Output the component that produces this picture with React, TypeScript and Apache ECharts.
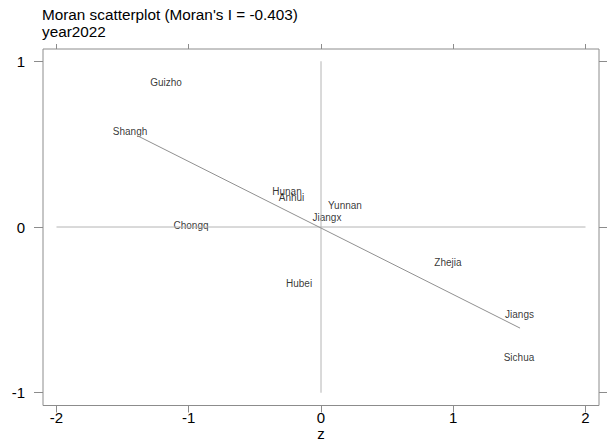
import React, { useEffect, useRef } from "react";
import * as echarts from "echarts";

const titleLines = ["Moran scatterplot (Moran's I = -0.403)", "year2022"];
const regionNames = ["Guizho", "Shangh", "Hunan", "Anhui", "Yunnan", "Jiangx", "Chongq", "Zhejia", "Hubei", "Jiangs", "Sichua"];
const zValues = [-1.172, -1.444, -0.257, -0.223, 0.181, 0.045, -0.983, 0.96, -0.166, 1.501, 1.497];
const wzValues = [0.869, 0.579, 0.217, 0.181, 0.127, 0.06, 0.012, -0.217, -0.338, -0.525, -0.785];
const fitX = [-1.384, 1.505];
const fitY = [0.549, -0.61];
const xTicks = [-2, -1, 0, 1, 2];
const yTicks = [-1, 0, 1];
const xRange = [-2.102, 2.102];
const yRange = [-1.077, 1.074];
const xName = "z";

const FONT = "'Liberation Sans', Arial, sans-serif";
const AXIS_COLOR = "#8c8c8c";
const REF_COLOR = "#b4b4b4";
const FIT_COLOR = "#909090";

export default function App() {
  const ref = useRef<HTMLDivElement>(null);
  useEffect(() => {
    if (!ref.current) return;
    const chart = echarts.init(ref.current, null, { renderer: "svg" });
    const pts = regionNames.map((n, i) => [zValues[i], wzValues[i], n]);
    const baseX = {
      type: "value",
      min: xRange[0],
      max: xRange[1],
      splitLine: { show: false },
      axisLine: { show: false, onZero: false },
    };
    const baseY = {
      type: "value",
      min: yRange[0],
      max: yRange[1],
      splitLine: { show: false },
      axisLine: { show: false, onZero: false },
    };
    chart.setOption({
      animation: false,
      backgroundColor: "#fff",
      textStyle: { fontFamily: FONT },
      title: {
        text: titleLines.join("\n"),
        left: 42,
        top: 6,
        padding: 0,
        textStyle: { fontFamily: FONT, fontSize: 15.3, fontWeight: "normal", color: "#000", lineHeight: 17 },
      },
      grid: {
        left: 43,
        right: 13,
        top: 49,
        bottom: 36.5,
        show: true,
        borderColor: AXIS_COLOR,
        borderWidth: 1,
        containLabel: false,
        outerBoundsMode: "none",
      },
      xAxis: [
        {
          ...baseX,
          position: "bottom",
          name: xName,
          nameLocation: "middle",
          nameGap: 20,
          nameMoveOverlap: false,
          nameTextStyle: { fontFamily: FONT, fontSize: 15, color: "#000", verticalAlign: "top", lineHeight: 15 },
          axisTick: { show: true, length: 7, customValues: xTicks, lineStyle: { color: AXIS_COLOR } },
          axisLabel: { show: true, customValues: xTicks, margin: 4, fontFamily: FONT, fontSize: 15, lineHeight: 15, color: "#000" },
        },
        {
          ...baseX,
          position: "top",
          axisTick: { show: true, length: 5, customValues: xTicks, lineStyle: { color: AXIS_COLOR } },
          axisLabel: { show: false },
        },
      ],
      yAxis: [
        {
          ...baseY,
          position: "left",
          axisTick: { show: true, length: 9, customValues: yTicks, lineStyle: { color: AXIS_COLOR } },
          axisLabel: { show: true, customValues: yTicks, margin: 18, fontFamily: FONT, fontSize: 15, color: "#000" },
        },
        {
          ...baseY,
          position: "right",
          axisTick: { show: true, length: 8, customValues: yTicks, lineStyle: { color: AXIS_COLOR } },
          axisLabel: { show: false },
        },
      ],
      series: [
        {
          type: "line",
          data: [[xTicks[0], 0], [xTicks[xTicks.length - 1], 0]],
          symbol: "none",
          lineStyle: { color: REF_COLOR, width: 1 },
          silent: true,
        },
        {
          type: "line",
          data: [[0, yTicks[0]], [0, yTicks[yTicks.length - 1]]],
          symbol: "none",
          lineStyle: { color: REF_COLOR, width: 1 },
          silent: true,
        },
        {
          type: "line",
          data: fitX.map((x, i) => [x, fitY[i]]),
          symbol: "none",
          lineStyle: { color: FIT_COLOR, width: 1 },
          silent: true,
        },
        {
          type: "scatter",
          data: pts,
          symbolSize: 1,
          itemStyle: { color: "rgba(0,0,0,0)" },
          labelLayout: { hideOverlap: false },
          label: {
            show: true,
            position: "inside",
            formatter: (p: any) => p.data[2],
            fontFamily: FONT,
            fontSize: 10,
            color: "#000",
          },
        },
      ],
    });
    return () => chart.dispose();
  }, []);
  return (
    <div
      ref={ref}
      style={{ position: "fixed", left: 0, top: 0, width: 612, height: 442, background: "#fff" }}
    />
  );
}
